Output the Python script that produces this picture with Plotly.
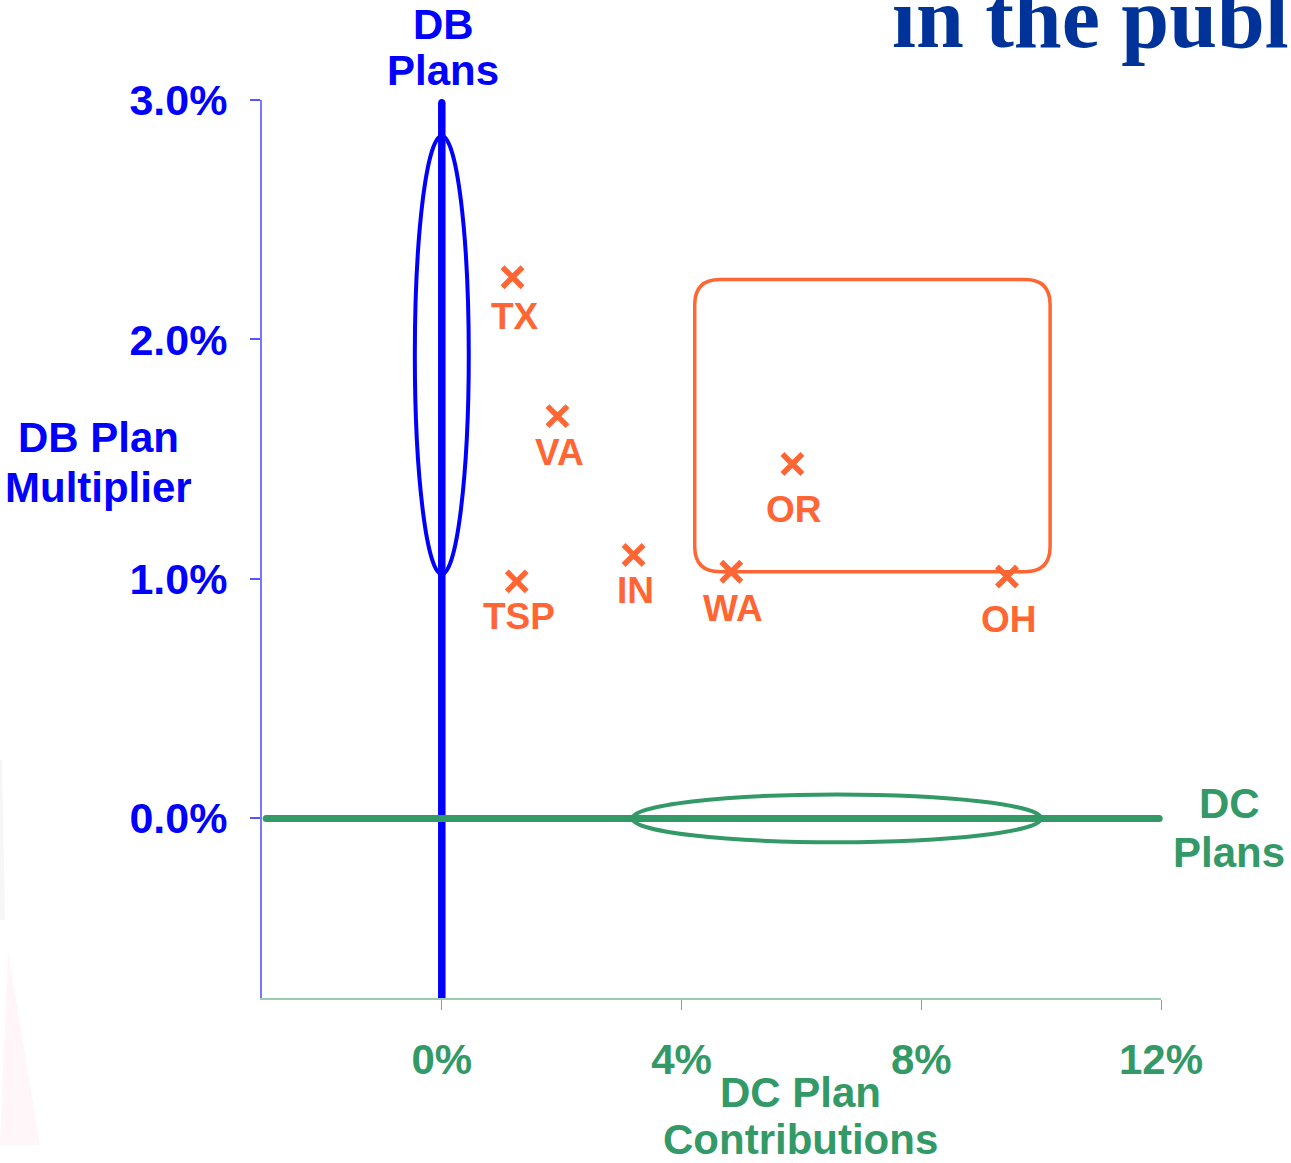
import plotly.graph_objects as go

# Plan designs: DC contribution rate (%) vs DB benefit multiplier (%)
plans = ["TX", "VA", "TSP", "IN", "WA", "OR", "OH"]
dc_contrib = [1.18, 1.93, 1.25, 3.20, 4.83, 5.85, 9.43]
db_mult = [2.26, 1.68, 0.99, 1.10, 1.03, 1.48, 1.01]

x_tick_vals = [0, 4, 8, 12]
x_tick_text = ["0%", "4%", "8%", "12%"]
y_tick_vals = [0, 1, 2, 3]
y_tick_text = ["0.0%", "1.0%", "2.0%", "3.0%"]

# vertical pixel offset of each plan label below its marker
label_offsets = {"TX": -39, "VA": -36, "TSP": -35, "IN": -36, "WA": -37, "OR": -46, "OH": -43}

BLUE = "#0000ff"
GREEN = "#339966"
ORANGE = "#ff6633"
FONT = "Liberation Sans"

# plot area in pixels, used to place the free-standing titles
L, T, W, H = 262, 100, 899, 898


def px(xpix):
    return (xpix - L) / W


def py(ypix):
    return (T + H - ypix) / H


fig = go.Figure()

# pure DB plans: the vertical axis at 0% DC contribution
fig.add_trace(go.Scatter(
    x=[0, 0], y=[-0.76, 2.99], mode="lines",
    line=dict(color=BLUE, width=7.5), hoverinfo="skip", showlegend=False,
))
# pure DC plans: the horizontal axis at 0% DB multiplier
fig.add_trace(go.Scatter(
    x=[-2.93, 11.97], y=[0, 0], mode="lines",
    line=dict(color=GREEN, width=7), hoverinfo="skip", showlegend=False,
))
# rounded line ends
fig.add_trace(go.Scatter(
    x=[0, -2.93, 11.97], y=[2.99, 0, 0], mode="markers",
    marker=dict(color=[BLUE, GREEN, GREEN], size=7, line=dict(width=0)),
    hoverinfo="skip", showlegend=False, cliponaxis=False,
))

# hybrid plans
fig.add_trace(go.Scatter(
    x=dc_contrib, y=db_mult, mode="markers",
    marker=dict(symbol="x-thin", size=20, line=dict(color=ORANGE, width=5.5), color=ORANGE),
    text=plans, hovertemplate="%{text}<extra></extra>", showlegend=False,
))

annotations = []
for name, xv, yv in zip(plans, dc_contrib, db_mult):
    annotations.append(dict(
        x=xv, y=yv, xref="x", yref="y", text=name, showarrow=False,
        yshift=label_offsets[name], xshift=2,
        font=dict(family=FONT, size=37, color=ORANGE, weight="bold"),
    ))

# two-line titles, one annotation per line: (text, x centre px, y centre px, colour)
title_font = dict(family=FONT, size=42, weight="bold")
title_lines = [
    ("DB", 443, 25, BLUE), ("Plans", 443, 71, BLUE),
    ("DB Plan", 98, 437, BLUE), ("Multiplier", 98, 487, BLUE),
    ("DC", 1229, 803, GREEN), ("Plans", 1229, 852, GREEN),
    ("DC Plan", 800, 1092, GREEN), ("Contributions", 800, 1139, GREEN),
]
for text, xc, yc, color in title_lines:
    annotations.append(dict(
        x=px(xc), y=py(yc), xref="paper", yref="paper", xanchor="center", yanchor="middle",
        showarrow=False, text=text, font=dict(title_font, color=color),
    ))

annotations.append(dict(
    x=px(1291), y=py(68), xref="paper", yref="paper",
    xanchor="right", yanchor="bottom", text="in the publ", showarrow=False,
    font=dict(family="Liberation Serif", size=86, color="#003399", weight="bold"),
))

shapes = [
    # DB plan cluster
    dict(type="circle", xref="x", yref="y", x0=-0.45, x1=0.45, y0=1.02, y1=2.85,
         line=dict(color=BLUE, width=4), layer="above"),
    # DC plan cluster
    dict(type="circle", xref="x", yref="y", x0=3.18, x1=10.0, y0=-0.1, y1=0.1,
         line=dict(color=GREEN, width=4), layer="above"),
]

# rounded box around the hybrid designs
bx0, bx1, by0, by1 = 4.22, 10.15, 1.03, 2.25
rx, ry = 0.42, 0.105
path = (
    f"M {bx0 + rx},{by1} L {bx1 - rx},{by1} Q {bx1},{by1} {bx1},{by1 - ry} "
    f"L {bx1},{by0 + ry} Q {bx1},{by0} {bx1 - rx},{by0} "
    f"L {bx0 + rx},{by0} Q {bx0},{by0} {bx0},{by0 + ry} "
    f"L {bx0},{by1 - ry} Q {bx0},{by1} {bx0 + rx},{by1} Z"
)
shapes.append(dict(type="path", xref="x", yref="y", path=path,
                   line=dict(color=ORANGE, width=3.5), layer="below"))

# faint background wash at the lower left edge
shapes.append(dict(type="path", xref="paper", yref="paper",
                   path=f"M {px(0)},{py(1145)} L {px(40)},{py(1145)} L {px(8)},{py(950)} Z",
                   fillcolor="#fbe6ea", opacity=0.35, line=dict(width=0), layer="below"))
shapes.append(dict(type="path", xref="paper", yref="paper",
                   path=f"M {px(0)},{py(920)} L {px(5)},{py(920)} L {px(2)},{py(760)} L {px(0)},{py(760)} Z",
                   fillcolor="#e8e8e8", opacity=0.4, line=dict(width=0), layer="below"))

fig.update_layout(
    width=1291, height=1163,
    margin=dict(l=L, r=1291 - L - W, t=T, b=1163 - T - H),
    paper_bgcolor="white", plot_bgcolor="white",
    annotations=annotations, shapes=shapes,
    showlegend=False,
    xaxis=dict(
        range=[-3, 12], tickvals=x_tick_vals, ticktext=x_tick_text,
        showgrid=False, zeroline=False, showline=True,
        linecolor="#99ccb0", linewidth=2,
        ticks="outside", ticklen=10, tickwidth=1, tickcolor="#66b38a",
        tickfont=dict(family=FONT, size=42, color=GREEN, weight="bold"),
        ticklabelstandoff=14,
    ),
    yaxis=dict(
        range=[-0.75, 3.0], tickvals=y_tick_vals, ticktext=y_tick_text,
        showgrid=False, zeroline=False, showline=True,
        linecolor="#7777ff", linewidth=2,
        ticks="outside", ticklen=10, tickwidth=2, tickcolor="#5555ff",
        tickfont=dict(family=FONT, size=43, color=BLUE, weight="bold"),
        ticklabelstandoff=14,
    ),
)

fig.write_html("out.html")
